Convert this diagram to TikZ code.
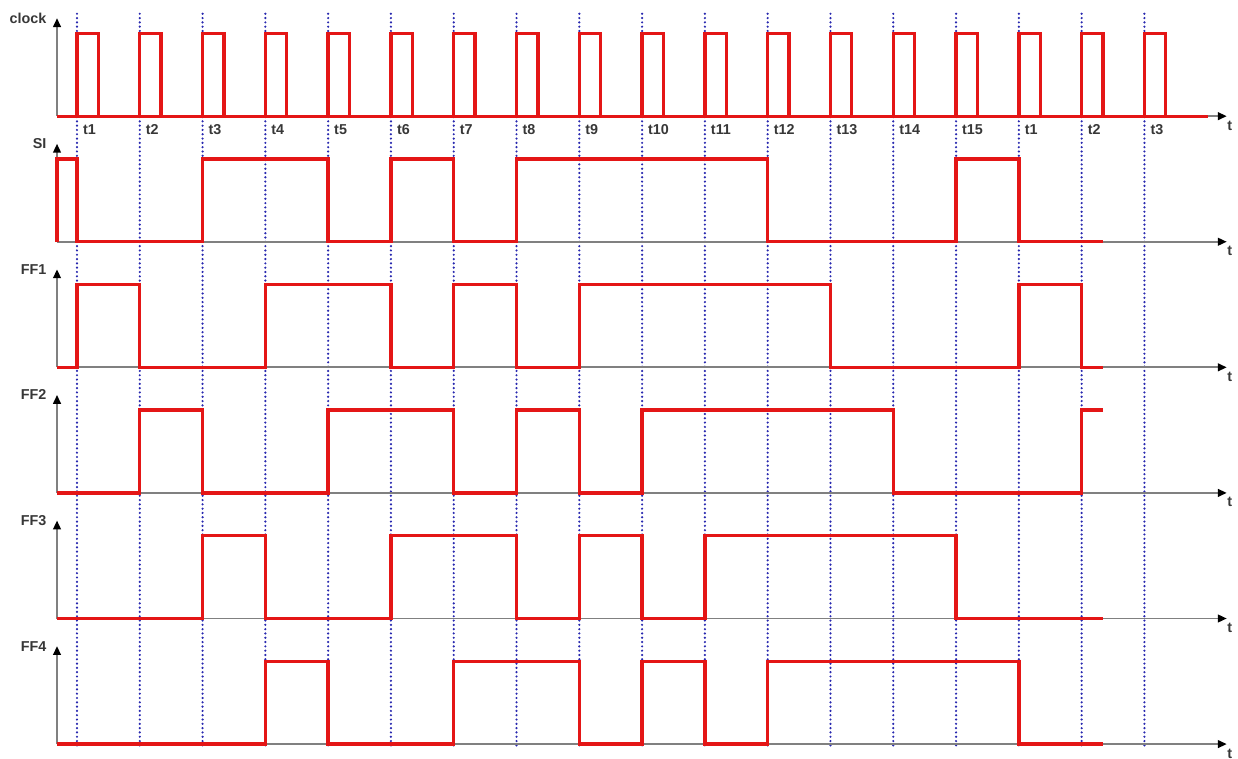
\documentclass[tikz,border=0pt]{standalone}
\usepackage{fontspec}
\setmainfont{Liberation Sans}
\usepackage{tikz}
\usetikzlibrary{arrows.meta}
\definecolor{SigRed}{RGB}{228, 22, 22}
\definecolor{AxisGray}{RGB}{128, 128, 128}
\definecolor{EdgeBlue}{RGB}{40, 40, 175}
\definecolor{LabelDark}{RGB}{55, 55, 55}
\tikzset{
  sig/.style={line width=1.5pt, draw=SigRed, line join=miter},
  axis/.style={line width=0.8pt, draw=AxisGray,
               -{Triangle[length=4pt, width=3.5pt, color=black]}},
  edgeline/.style={line width=1.1pt, draw=EdgeBlue, line cap=round,
                   dash pattern=on 0pt off 1.95pt},
  lbl/.style={font=\fontsize{6.5}{7}\selectfont\bfseries, text=LabelDark, inner sep=0pt},
}
\newcommand{\sighigh}{1.32}

\begin{document}
\begin{tikzpicture}[x=1cm, y=1cm]
  \useasboundingbox (-1.226,-0.223) rectangle (18.49,11.85);

  % clock edges
  \foreach \k in {0,...,17}
    \draw[edgeline] (\k,-0.02) -- (\k,11.69);

  % axes and row names
  \foreach \y/\name in {10/clock, 8/SI, 6/FF1, 4/FF2, 2/FF3, 0/FF4} {
    \draw[axis] (-0.318,\y) -- (-0.318,\y+1.56);
    \draw[axis] (-0.318,\y) -- (18.31,\y);
    \node[lbl, anchor=east] (lbl\name) at (-0.48,\y+1.56) {\name};
    \node[lbl] (t\name) at (18.36,\y-0.15) {t};
  }

  % time labels
  \foreach \k in {0,...,17} {
    \pgfmathtruncatemacro\tn{mod(\k,15)+1}
    \node[lbl, anchor=west] (tk\k) at (\k+0.09,9.78) {t\tn};
  }

  % clock
  \begin{scope}[yshift=10cm]
    \draw[sig] (-0.318,0) -- (18.01,0);
    \foreach \k in {0,...,17}
      \draw[sig] (\k,0) |- (\k+0.34,\sighigh) -- (\k+0.34,0);
  \end{scope}

  % SI
  \begin{scope}[yshift=8cm]
    \draw[sig] (-0.318,0) |- (0,\sighigh) |- (2,0) |- (4,\sighigh) |- (5,0)
      |- (6,\sighigh) |- (7,0) |- (11,\sighigh) |- (14,0) |- (15,\sighigh) |- (16.34,0);
  \end{scope}

  % FF1
  \begin{scope}[yshift=6cm]
    \draw[sig] (-0.318,0) -- (0,0) |- (1,\sighigh) |- (3,0) |- (5,\sighigh) |- (6,0)
      |- (7,\sighigh) |- (8,0) |- (12,\sighigh) |- (15,0) |- (16,\sighigh) |- (16.34,0);
  \end{scope}

  % FF2
  \begin{scope}[yshift=4cm]
    \draw[sig] (-0.318,0) -- (1,0) |- (2,\sighigh) |- (4,0) |- (6,\sighigh) |- (7,0)
      |- (8,\sighigh) |- (9,0) |- (13,\sighigh) |- (16,0) |- (16.34,\sighigh);
  \end{scope}

  % FF3
  \begin{scope}[yshift=2cm]
    \draw[sig] (-0.318,0) -- (2,0) |- (3,\sighigh) |- (5,0) |- (7,\sighigh) |- (8,0)
      |- (9,\sighigh) |- (10,0) |- (14,\sighigh) |- (16.34,0);
  \end{scope}

  % FF4
  \draw[sig] (-0.318,0) -- (3,0) |- (4,\sighigh) |- (6,0) |- (8,\sighigh) |- (9,0)
    |- (10,\sighigh) |- (11,0) |- (15,\sighigh) |- (16.34,0);
\end{tikzpicture}
\end{document}
